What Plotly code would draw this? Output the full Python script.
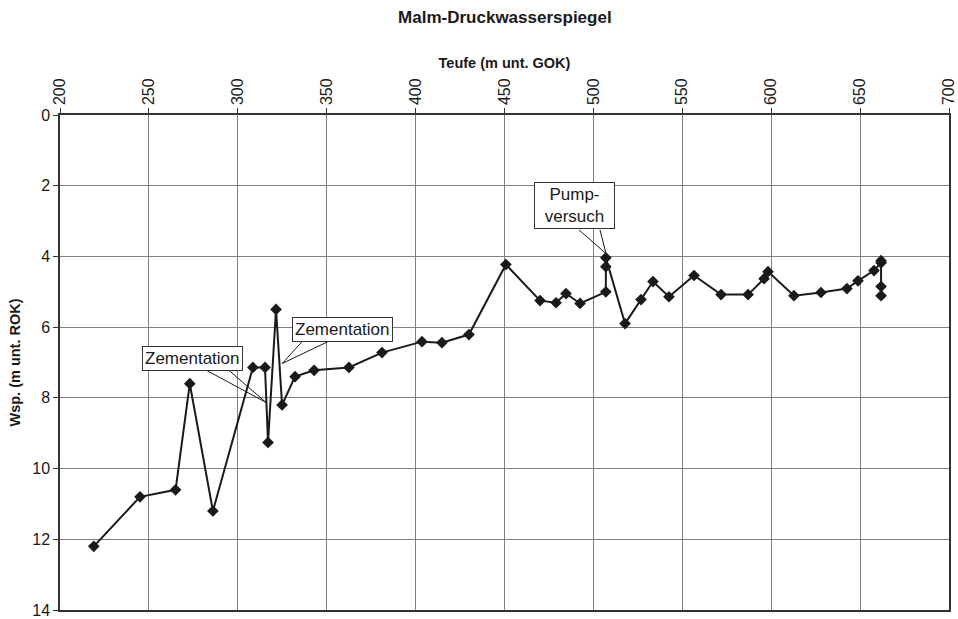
import plotly.graph_objects as go

teufe = [219, 245, 265, 273, 286, 308.5, 315.3, 317, 321.5, 324.9, 332.2, 342.9, 362.5,
         381.1, 403.6, 414.8, 430, 450.8, 470, 479, 484.6, 492.5, 507, 507, 507, 517.8,
         526.8, 533.5, 542.5, 556.6, 571.8, 587, 596, 598.2, 612.8, 628, 642.6, 648.8,
         657.8, 661.8, 661.8, 661.8, 661.8]
wsp = [12.2, 10.8, 10.6, 7.6, 11.2, 7.14, 7.14, 9.26, 5.5, 8.2, 7.4, 7.22, 7.14,
       6.72, 6.41, 6.44, 6.21, 4.23, 5.25, 5.31, 5.05, 5.33, 5.0, 4.29, 4.04, 5.9,
       5.22, 4.71, 5.14, 4.54, 5.08, 5.08, 4.63, 4.43, 5.11, 5.02, 4.91, 4.69,
       4.40, 4.18, 4.12, 4.85, 5.11]

x_ticks = [200, 250, 300, 350, 400, 450, 500, 550, 600, 650, 700]
y_ticks = [0, 2, 4, 6, 8, 10, 12, 14]

title = "Malm-Druckwasserspiegel"
x_title = "Teufe (m unt. GOK)"
y_title = "Wsp. (m unt. ROK)"

# callouts: text, box centre, wedge base points, wedge tip
callouts = [
    ("Zementation", (274.5, 6.89), [(281.6, 7.20), (294.5, 7.20)], (315.9, 8.13)),
    ("Zementation", (359, 6.07), [(336.7, 6.38), (351.9, 6.38)], (324.9, 7.03)),
    ("Pump-<br>versuch", (489.5, 2.56), [(491.9, 3.25), (503.7, 3.25)], (507.1, 3.92)),
]

FONT = "Liberation Sans, Arial, sans-serif"

fig = go.Figure()
fig.add_trace(go.Scatter(
    x=teufe, y=wsp, mode="lines+markers",
    line=dict(color="#1a1a1a", width=2),
    marker=dict(symbol="diamond", size=9, color="#1a1a1a"),
    showlegend=False, hoverinfo="x+y"))

shapes = []
annotations = []
for text, (cx, cy), base, tip in callouts:
    for bx, by in base:
        shapes.append(dict(type="line", xref="x", yref="y", x0=bx, y0=by, x1=tip[0], y1=tip[1],
                           line=dict(color="#1a1a1a", width=1)))
    multi = "<br>" in text
    annotations.append(dict(x=cx, y=cy, xref="x", yref="y", text=text, showarrow=False,
                            font=dict(family=FONT, size=17, color="#1a1a1a"),
                            bgcolor="white", bordercolor="#333", borderwidth=1,
                            borderpad=2, width=75 if multi else None))

fig.update_layout(
    width=958, height=619,
    margin=dict(l=60, r=9, t=115, b=9),
    paper_bgcolor="white", plot_bgcolor="white",
    title=dict(text="<b>" + title + "</b>", x=0.527, xanchor="center", y=0.972, yanchor="middle",
               font=dict(family=FONT, size=17, color="#1a1a1a")),
    shapes=shapes, annotations=annotations,
    xaxis=dict(side="top", range=[200, 700], tickvals=x_ticks, ticktext=[str(v) for v in x_ticks],
               tickangle=-90, tickfont=dict(family=FONT, size=16, color="#1a1a1a"),
               showgrid=True, gridcolor="#7f7f7f", gridwidth=1, automargin=False,
               ticklabeloverflow="allow",
               showline=True, linecolor="#333", linewidth=1.5, mirror=True,
               ticks="outside", ticklen=5, tickcolor="#333", zeroline=False,
               title=dict(text="<b>" + x_title + "</b>", font=dict(family=FONT, size=14.5, color="#1a1a1a"),
                          standoff=6)),
    yaxis=dict(range=[14, 0], tickvals=y_ticks, ticktext=[str(v) for v in y_ticks],
               tickfont=dict(family=FONT, size=16, color="#1a1a1a"),
               showgrid=True, gridcolor="#7f7f7f", gridwidth=1, automargin=False,
               ticklabeloverflow="allow",
               showline=True, linecolor="#333", linewidth=1.5, mirror=True,
               ticks="outside", ticklen=5, tickcolor="#333", zeroline=False,
               title=dict(text="<b>" + y_title + "</b>", font=dict(family=FONT, size=14.5, color="#1a1a1a"),
                          standoff=8)),
)

fig.write_html("out.html", config={"displayModeBar": False},
               post_script="document.body.style.margin='0';")
